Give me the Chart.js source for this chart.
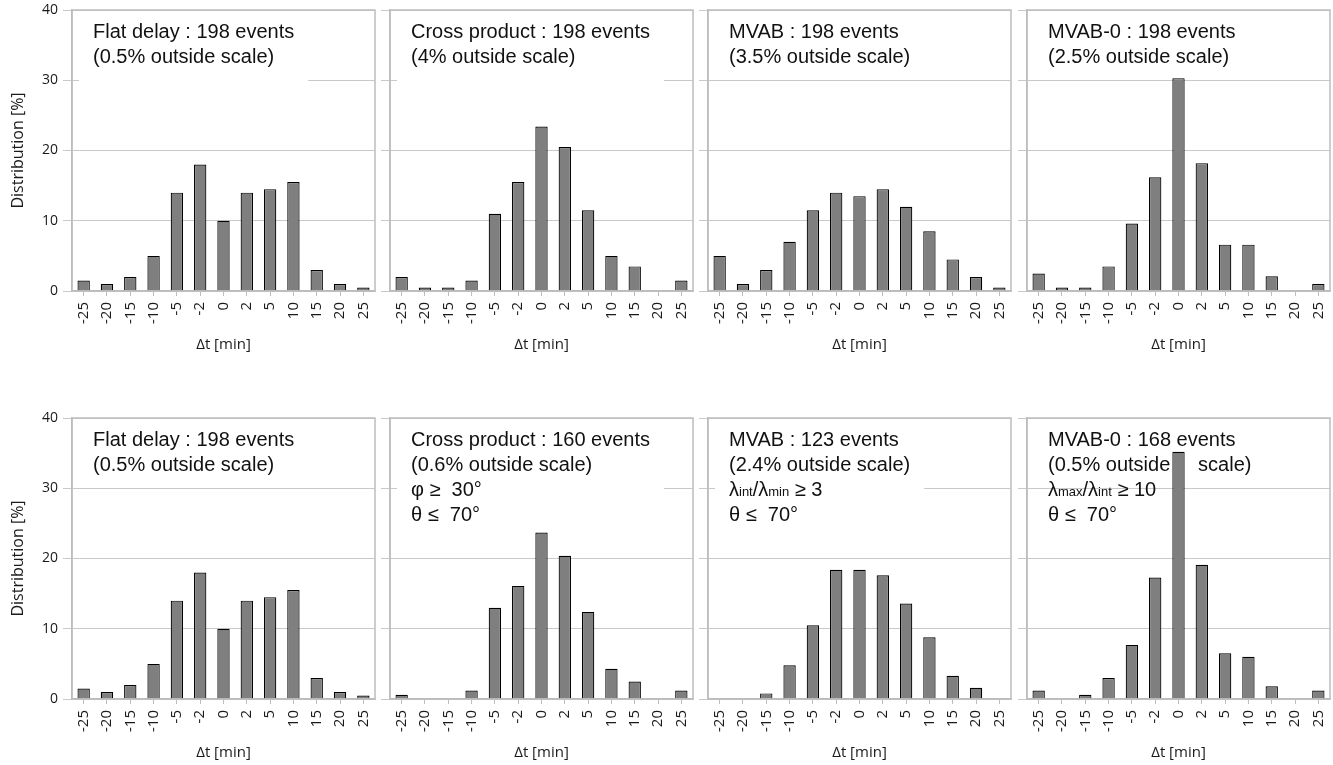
<!DOCTYPE html>
<html>
<head>
<meta charset="utf-8">
<script src="https://cdn.jsdelivr.net/npm/chart.js@4.4.1/dist/chart.umd.min.js"></script>
<style>
    body { margin: 0; background: #fff; width: 1333px; height: 765px; position: relative; overflow: hidden; }
    canvas { position: absolute; }
</style>
</head>
<body>
<script>
// Delay categories (minutes)
const deltaT = ['-25', '-20', '-15', '-10', '-5', '-2', '0', '2', '5', '10', '15', '20', '25'];

// Top row: all events
const flatDelayAll    = [1.5, 1.0, 2.0, 5.0, 14.0, 18.0, 10.0, 14.0, 14.5, 15.5, 3.0, 1.0, 0.5];
const crossProductAll = [2.0, 0.5, 0.5, 1.5, 11.0, 15.5, 23.4, 20.5, 11.5, 5.0, 3.5, 0, 1.5];
const mvabAll         = [5.0, 1.0, 3.0, 7.0, 11.5, 14.0, 13.5, 14.5, 12.0, 8.5, 4.5, 2.0, 0.5];
const mvab0All        = [2.5, 0.5, 0.5, 3.5, 9.6, 16.2, 30.3, 18.2, 6.6, 6.6, 2.1, 0, 1.0];

// Bottom row: events after quality cuts
const flatDelayCut    = [1.5, 1.0, 2.0, 5.0, 14.0, 18.0, 10.0, 14.0, 14.5, 15.5, 3.0, 1.0, 0.5];
const crossProductCut = [0.6, 0, 0, 1.2, 13.0, 16.1, 23.7, 20.4, 12.4, 4.3, 2.5, 0, 1.2];
const mvabCut         = [0, 0, 0.8, 4.8, 10.5, 18.4, 18.4, 17.6, 13.6, 8.8, 3.3, 1.6, 0];
const mvab0Cut        = [1.2, 0, 0.6, 3.0, 7.7, 17.3, 35.2, 19.1, 6.5, 6.0, 1.8, 0, 1.2];

// Panel captions (_{..} = small subscript text)
const notesFlatAll  = ['Flat delay : 198 events', '(0.5% outside scale)'];
const notesCrossAll = ['Cross product : 198 events', '(4% outside scale)'];
const notesMvabAll  = ['MVAB : 198 events', '(3.5% outside scale)'];
const notesMvab0All = ['MVAB-0 : 198 events', '(2.5% outside scale)'];
const notesFlatCut  = ['Flat delay : 198 events', '(0.5% outside scale)'];
const notesCrossCut = ['Cross product : 160 events', '(0.6% outside scale)', 'φ ≥  30°', 'θ ≤  70°'];
const notesMvabCut  = ['MVAB : 123 events', '(2.4% outside scale)', 'λ_{int}/λ_{min} ≥ 3', 'θ ≤  70°'];
const notesMvab0Cut = ['MVAB-0 : 168 events', '(0.5% outside     scale)', 'λ_{max}/λ_{int} ≥ 10', 'θ ≤  70°'];

const yTicks = [0, 10, 20, 30, 40];

const panels = [
    { values: flatDelayAll,    notes: notesFlatAll,  masked: true },
    { values: crossProductAll, notes: notesCrossAll, masked: true },
    { values: mvabAll,         notes: notesMvabAll,  masked: false },
    { values: mvab0All,        notes: notesMvab0All, masked: false },
    { values: flatDelayCut,    notes: notesFlatCut,  masked: false },
    { values: crossProductCut, notes: notesCrossCut, masked: true },
    { values: mvabCut,         notes: notesMvabCut,  masked: true },
    { values: mvab0Cut,        notes: notesMvab0Cut, masked: false }
];

// layout
const plotLefts = [72, 390, 708, 1027];
const plotTops = [10, 418];
const PLOT_W = 303;
const PLOT_H = 281;
const X_AXIS_H = 63;
const TOP_PAD = 10;

const NOTE_FONT = '20px "Liberation Sans", Arial, sans-serif';
const SUB_FONT = '13px "Liberation Sans", Arial, sans-serif';
const GRID = '#c9c9c9';
const FRAME = '#bdbdbd';

Chart.defaults.font.family = "'Open Sans', sans-serif";
Chart.defaults.color = '#1a1a1a';

function richParts(line) {
    return line.split(/(_\{[^}]*\})/).filter(p => p).map(p =>
        p.startsWith('_{') ? { text: p.slice(2, -1), font: SUB_FONT } : { text: p, font: NOTE_FONT });
}

function richWidth(ctx, line) {
    return richParts(line).reduce((w, p) => { ctx.font = p.font; return w + ctx.measureText(p.text).width; }, 0);
}

function drawRich(ctx, line, x, y) {
    let cx = x;
    richParts(line).forEach(p => {
        ctx.font = p.font;
        ctx.fillText(p.text, cx, y);
        cx += ctx.measureText(p.text).width;
    });
}

// caption behind the bars, plus the box round each panel
function makeFrame(panel) {
    return {
        id: 'panelFrame',
        beforeDatasetsDraw(chart) {
            const { ctx, chartArea: a } = chart;
            const x = a.left + 21;
            const y0 = a.top + 28;
            const lh = 25;
            ctx.save();
            if (panel.masked) {
                const w = Math.max(...panel.notes.map(l => richWidth(ctx, l)));
                ctx.fillStyle = '#fff';
                ctx.fillRect(x - 14, a.top + 2, w + 28, 28 + lh * (panel.notes.length - 1) + 20);
            }
            ctx.fillStyle = '#111';
            ctx.textBaseline = 'alphabetic';
            ctx.textAlign = 'left';
            panel.notes.forEach((l, k) => drawRich(ctx, l, x, y0 + k * lh));
            ctx.restore();
        },
        afterDatasetsDraw(chart) {
            const { ctx, chartArea: a } = chart;
            ctx.save();
            ctx.strokeStyle = FRAME;
            ctx.lineWidth = 1.5;
            ctx.strokeRect(a.left, a.top, a.right - a.left, a.bottom - a.top);
            ctx.restore();
        }
    };
}

panels.forEach((panel, i) => {
    const row = Math.floor(i / 4);
    const col = i % 4;
    const first = col === 0;
    const yAxisW = first ? 72 : 10;

    const canvas = document.createElement('canvas');
    canvas.width = yAxisW + PLOT_W + 1;
    canvas.height = TOP_PAD + PLOT_H + X_AXIS_H;
    canvas.style.left = (plotLefts[col] - yAxisW) + 'px';
    canvas.style.top = (plotTops[row] - TOP_PAD) + 'px';
    document.body.appendChild(canvas);

    new Chart(canvas, {
        type: 'bar',
        data: {
            labels: deltaT,
            datasets: [{
                data: panel.values,
                backgroundColor: '#7f7f7f',
                borderColor: '#000',
                borderWidth: 1.2,
                barPercentage: 0.53,
                categoryPercentage: 1
            }]
        },
        options: {
            responsive: false,
            animation: false,
            layout: { padding: { top: TOP_PAD, right: 1, bottom: 0, left: 0 } },
            plugins: {
                legend: { display: false },
                tooltip: { enabled: false }
            },
            scales: {
                x: {
                    offset: true,
                    grid: { offset: false, drawOnChartArea: false, drawTicks: true, tickLength: 5, color: FRAME },
                    border: { color: FRAME, width: 1.5 },
                    ticks: { minRotation: 90, maxRotation: 90, padding: 6, font: { size: 15 }, autoSkip: false },
                    title: { display: true, text: 'Δt [min]', font: { size: 15 }, padding: { top: 0, bottom: 0 } },
                    afterFit: s => {
                        s.height = X_AXIS_H;
                        s.paddingLeft = 0;
                        s.paddingRight = 0;
                    }
                },
                y: {
                    min: 0,
                    max: 40,
                    afterBuildTicks: s => { s.ticks = yTicks.map(v => ({ value: v })); },
                    grid: { color: GRID, tickLength: 9, drawTicks: true },
                    border: { color: FRAME, width: 1.5 },
                    ticks: { display: first, padding: 5, font: { size: 14 } },
                    title: { display: first, text: 'Distribution [%]', font: { size: 16 }, padding: { top: 9, bottom: 0 } },
                    afterFit: s => {
                        s.width = yAxisW;
                        s.paddingTop = 0;
                        s.paddingBottom = 0;
                    }
                }
            }
        },
        plugins: [makeFrame(panel)]
    });
});
</script>
</body>
</html>
